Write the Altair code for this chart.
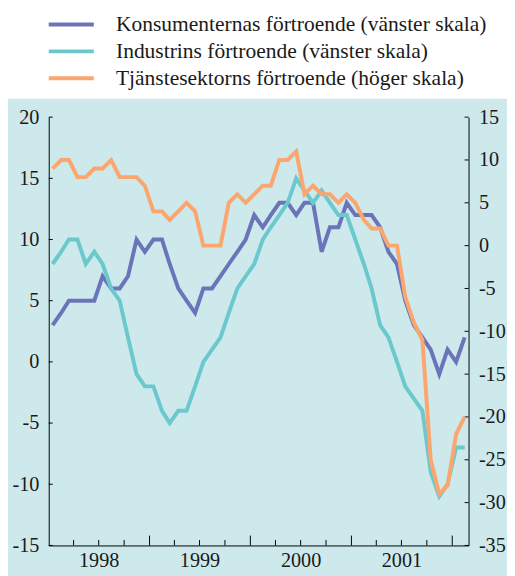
import altair as alt
import pandas as pd

# ---- data -------------------------------------------------------------
months = [f"{1998 + i // 12}-{i % 12 + 1:02d}-15" for i in range(50)]

names = [
    "Konsumenternas förtroende (vänster skala)",
    "Industrins förtroende (vänster skala)",
    "Tjänstesektorns förtroende (höger skala)",
]
colors = ["#6b74b8", "#6bc9ce", "#fba66f"]

konsument = [3, 4, 5, 5, 5, 5, 7, 6, 6, 7, 10, 9, 10, 10, 8, 6, 5, 4, 6, 6,
             7, 8, 9, 10, 12, 11, 12, 13, 13, 12, 13, 13, 9, 11, 11, 13, 12, 12, 12, 11,
             9, 8, 5, 3, 2, 1, -1, 1, 0, 2]
industri = [8, 9, 10, 10, 8, 9, 8, 6, 5, 2, -1, -2, -2, -4, -5, -4, -4, -2, 0, 1,
            2, 4, 6, 7, 8, 10, 11, 12, 13, 15, 14, 13, 14, 13, 12, 12, 10, 8, 6, 3,
            2, 0, -2, -3, -4, -9, -11, -10, -7, -7]
tjanst = [9, 10, 10, 8, 8, 9, 9, 10, 8, 8, 8, 7, 4, 4, 3, 4, 5, 4, 0, 0,
          0, 5, 6, 5, 6, 7, 7, 10, 10, 11, 6, 7, 6, 6, 5, 6, 5, 3, 2, 2,
          0, 0, -6, -9, -11, -25, -29, -28, -22, -20]

left_ticks = [-15, -10, -5, 0, 5, 10, 15, 20]
right_ticks = [-35, -30, -25, -20, -15, -10, -5, 0, 5, 10, 15]
quarter_ticks = ["1998-04-01", "1998-07-01", "1998-10-01",
                 "1999-04-01", "1999-07-01", "1999-10-01",
                 "2000-04-01", "2000-07-01", "2000-10-01",
                 "2001-04-01", "2001-07-01", "2001-10-01"]
year_ticks = ["1999-01-01", "2000-01-01", "2001-01-01", "2002-01-01"]
label_years = [1998, 1999, 2000, 2001]

# ---- layout ------------------------------------------------------------
W = 425.7
H = 434.3
FONT = "Liberation Serif"
FS = 20.5
LFS = 21.8
TXT = "#1a1a1a"

xscale = alt.Scale(type="utc", domain=[alt.DateTime(year=1998, month=1, date=1, utc=True),
                                       alt.DateTime(year=2002, month=3, date=1, utc=True)])
x_axis = alt.Axis(values=[alt.DateTime(year=y, month=7, date=1, utc=True) for y in label_years],
                  labelExpr="utcFormat(datum.value, '%Y')", ticks=False, grid=False,
                  domainColor="black", domainWidth=1, labelFont=FONT, labelFontSize=FS,
                  labelColor=TXT, labelPadding=5, labelFlush=False, labelOverlap=False,
                  title="", orient="bottom", zindex=2)

left_scale = alt.Scale(domain=[-15, 20], nice=False, zero=False)
right_scale = alt.Scale(domain=[-35, 15], nice=False, zero=False)
left_axis = alt.Axis(values=left_ticks, orient="left", ticks=False, grid=False,
                     domainColor="black", domainWidth=1, labelFont=FONT, labelFontSize=FS,
                     labelColor=TXT, labelPadding=10, labelExpr="'' + datum.value",
                     labelFlush=False, labelOverlap=False, title="", zindex=2)
right_axis = alt.Axis(values=right_ticks, orient="right", ticks=False, grid=False,
                      domainColor="black", domainWidth=1, labelFont=FONT, labelFontSize=FS,
                      labelColor=TXT, labelPadding=10, labelExpr="'' + datum.value",
                      labelFlush=False, labelOverlap=False, title="", zindex=2)
color_scale = alt.Scale(domain=names, range=colors)

X = alt.X("date:T", scale=xscale, axis=x_axis)

blue_df = pd.DataFrame({"date": months, "value": konsument, "serie": names[0]})
cyan_df = pd.DataFrame({"date": months, "value": industri, "serie": names[1]})
orange_df = pd.DataFrame({"date": months, "value": tjanst, "serie": names[2]})

bg = alt.Chart(pd.DataFrame({"a": [0]})).mark_rect(color="#cde9ec").encode(
    x=alt.value(-42), x2=alt.value(W + 45), y=alt.value(-18.7), y2=alt.value(H + 40))

def line(df, scale, axis):
    return alt.Chart(df).mark_line(strokeWidth=4, strokeJoin="miter").encode(
        x=X,
        y=alt.Y("value:Q", scale=scale, axis=axis),
        color=alt.Color("serie:N", scale=color_scale, legend=None),
    )

lt = alt.Chart(pd.DataFrame({"v": left_ticks})).mark_rule(color="black", strokeWidth=1).encode(
    x=alt.value(0), x2=alt.value(4), y=alt.Y("v:Q", scale=left_scale, axis=left_axis))
rt = alt.Chart(pd.DataFrame({"v": right_ticks})).mark_rule(color="black", strokeWidth=1).encode(
    x=alt.value(W - 4), x2=alt.value(W), y=alt.Y("v:Q", scale=right_scale, axis=right_axis))
qt = alt.Chart(pd.DataFrame({"t": quarter_ticks})).mark_rule(color="black", strokeWidth=1).encode(
    x=alt.X("t:T", scale=xscale, axis=x_axis), y=alt.value(H), y2=alt.value(H - 5.5))
yt = alt.Chart(pd.DataFrame({"t": year_ticks})).mark_rule(color="black", strokeWidth=1).encode(
    x=alt.X("t:T", scale=xscale, axis=x_axis), y=alt.value(H), y2=alt.value(H - 10))

left_group = alt.layer(bg, qt, yt, lt, line(blue_df, left_scale, left_axis),
                       line(cyan_df, left_scale, left_axis))
right_group = alt.layer(rt, line(orange_df, right_scale, right_axis))

legend_df = pd.DataFrame({"serie": names})
leg_y = alt.Y("serie:N", scale=alt.Scale(type="point", domain=names, range=[-94.0, -39.4], padding=0),
              axis=None)
leg_rules = alt.Chart(legend_df).mark_rule(strokeWidth=4).encode(
    x=alt.value(0), x2=alt.value(45.7), y=leg_y,
    color=alt.Color("serie:N", scale=color_scale, legend=None))
leg_text = alt.Chart(legend_df).mark_text(align="left", baseline="alphabetic", dy=6.7,
                                          font=FONT, fontSize=LFS, color=TXT).encode(
    x=alt.value(68.2), y=leg_y, text="serie:N")
legend_group = alt.layer(leg_rules, leg_text)

chart = alt.layer(left_group, right_group, legend_group).resolve_scale(
    y="independent"
).properties(
    width=W, height=H,
    padding={"left": 41.3, "top": 106.7, "right": 39, "bottom": 27},
    autosize=alt.AutoSizeParams(type="none"),
    background="white",
).configure_view(strokeWidth=0)

chart.save("out.html", embed_options={"renderer": "svg", "actions": False})
